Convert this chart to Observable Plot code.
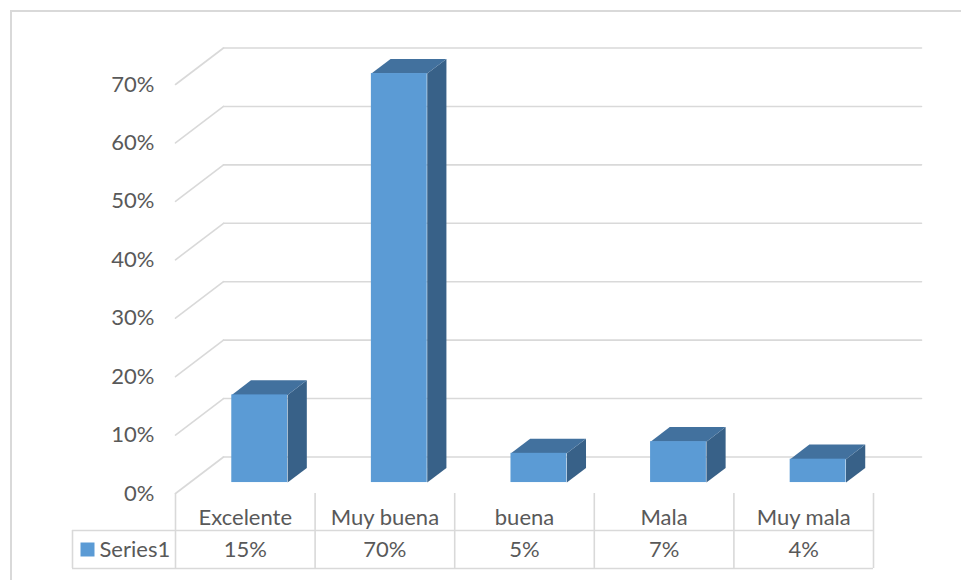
<!DOCTYPE html>
<html>
<head>
<meta charset="utf-8">
<script src="https://cdn.jsdelivr.net/npm/d3@7"></script>
<script src="https://cdn.jsdelivr.net/npm/@observablehq/plot@0.6"></script>
<style>
  html, body { margin: 0; padding: 0; background: #fff; overflow: hidden; }
  #wrap { position: relative; width: 961px; height: 580px; }
  #border { position: absolute; left: 10px; top: 10px; width: 1000px; height: 1000px;
            border: 2px solid #D9D9D9; box-sizing: border-box; pointer-events: none; }
  #chart { position: absolute; left: 0; top: 0; }
</style>
</head>
<body>
<div id="wrap"><div id="border"></div><div id="chart"></div></div>
<script>
// ---- data ----
const categories = ["Excelente", "Muy buena", "buena", "Mala", "Muy mala"];
const values = [15, 70, 5, 7, 4];
const yTicks = [0, 10, 20, 30, 40, 50, 60, 70];
const seriesName = "Series1";

// ---- layout / projection (oblique 3D in data units) ----
const X_RANGE = [175, 873], Y_RANGE = [493, 84];
const Y_MAX = 70;
const pxPerX = (X_RANGE[1] - X_RANGE[0]) / categories.length;
const pxPerY = (Y_RANGE[0] - Y_RANGE[1]) / Y_MAX;
const DEPTH_X = 48 / pxPerX;     // full depth shift in x units
const DEPTH_Y = 36.5 / pxPerY;   // full depth shift in y units
const BAR_FRONT = 0.3, BAR_BACK = 0.7, BAR_W = 0.4;
const proj = (x, y, d) => ({x: x + d * DEPTH_X, y: y + d * DEPTH_Y});
const yOf = px => Y_MAX * (Y_RANGE[0] - px) / (Y_RANGE[0] - Y_RANGE[1]);
const xOf = px => (px - X_RANGE[0]) / pxPerX;

const fmt = v => v + "%";

// gridlines
const backGrid = yTicks.flatMap(t => [
  {...proj(0, t, 1), k: t}, {...proj(categories.length, t, 1), k: t}
]);
const sideGrid = yTicks.flatMap(t => [
  {...proj(0, t, 0), k: t}, {...proj(0, t, 1), k: t}
]);

// bar faces
const fronts = values.map((v, i) => {
  const c = i + 0.5, a = proj(c - BAR_W / 2, 0, BAR_FRONT), b = proj(c + BAR_W / 2, v, BAR_FRONT);
  return {x1: a.x, x2: b.x, y1: a.y, y2: b.y};
});
const tops = values.flatMap((v, i) => {
  const xl = i + 0.5 - BAR_W / 2, xr = i + 0.5 + BAR_W / 2;
  return [proj(xl, v, BAR_FRONT), proj(xr, v, BAR_FRONT), proj(xr, v, BAR_BACK), proj(xl, v, BAR_BACK)]
    .map(p => ({...p, k: i}));
});
const sides = values.flatMap((v, i) => {
  const xr = i + 0.5 + BAR_W / 2;
  return [proj(xr, 0, BAR_FRONT), proj(xr, v, BAR_FRONT), proj(xr, v, BAR_BACK), proj(xr, 0, BAR_BACK)]
    .map(p => ({...p, k: i}));
});

// data table geometry
const legendLeft = xOf(72);
const rowLine = yOf(530), tableBottom = yOf(568);
const headerY = yOf(517), valueY = yOf(549);
const colLines = d3.range(categories.length + 1);

const FONT = "Lato, 'Open Sans', sans-serif";
const TXT = "#595959", GRID = "#D9D9D9";

const chart = Plot.plot({
  width: 961, height: 580,
  x: {domain: [0, categories.length], range: X_RANGE, axis: null},
  y: {domain: [0, Y_MAX], range: Y_RANGE, axis: null},
  style: {background: "transparent", fontFamily: FONT, fontSize: "22px", color: TXT},
  marks: [
    // walls
    Plot.line(backGrid, {x: "x", y: "y", z: "k", stroke: GRID, strokeWidth: 1.6}),
    Plot.line(sideGrid, {x: "x", y: "y", z: "k", stroke: GRID, strokeWidth: 1.6}),
    // y tick labels
    Plot.text(yTicks, {x: 0, y: d => d, text: fmt, textAnchor: "end", dx: -21, dy: 0,
      fill: TXT, fontSize: 22, fontFamily: FONT}),
    // bars
    Plot.line(sides, {x: "x", y: "y", z: "k", fill: "#386188", stroke: null, curve: "linear-closed"}),
    Plot.line(tops, {x: "x", y: "y", z: "k", fill: "#42719E", stroke: null, curve: "linear-closed"}),
    Plot.rect(fronts, {x1: "x1", x2: "x2", y1: "y1", y2: "y2", fill: "#5B9BD5"}),
    // data table lines
    Plot.ruleX(colLines, {x: d => d, y1: 0, y2: tableBottom, stroke: GRID, strokeWidth: 1.6}),
    Plot.ruleX([legendLeft], {x: d => d, y1: rowLine, y2: tableBottom, stroke: GRID, strokeWidth: 1.6}),
    Plot.ruleY([rowLine, tableBottom], {y: d => d, x1: legendLeft, x2: categories.length, stroke: GRID, strokeWidth: 1.6}),
    // table text
    Plot.text(categories, {x: (d, i) => i + 0.5, y: headerY, text: d => d, fill: TXT, fontSize: 22, fontFamily: FONT}),
    Plot.text(values, {x: (d, i) => i + 0.5, y: valueY, text: fmt, fill: TXT, fontSize: 22, fontFamily: FONT}),
    Plot.dot([seriesName], {x: xOf(87), y: valueY, symbol: "square", r: 7.9, fill: "#5B9BD5", stroke: null}),
    Plot.text([seriesName], {x: xOf(99), y: valueY, text: d => d, textAnchor: "start", fill: TXT, fontSize: 22, fontFamily: FONT})
  ]
});
document.getElementById("chart").appendChild(chart);
</script>
</body>
</html>
